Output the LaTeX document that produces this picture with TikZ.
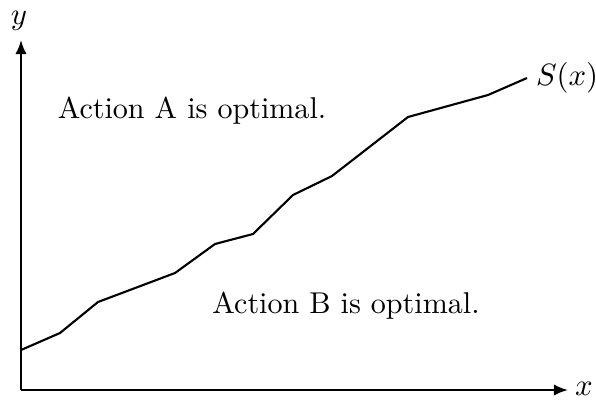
\documentclass[tikz,border=0pt]{standalone}
\usepackage{amsmath,amssymb}
\usepackage{tikz}
\usetikzlibrary{arrows.meta,positioning,calc}

\begin{document}
\begin{tikzpicture}[
  x=0.0125cm,y=-0.0125cm,
  axis/.style={-{Latex[length=5pt,width=4pt]},line width=0.75pt},
  curve/.style={line width=0.75pt,line join=round},
  region/.style={font=\fontsize{10.7}{13}\selectfont,anchor=base},
  lbl/.style={inner sep=1pt,font=\fontsize{11}{13}\selectfont},
]
\useasboundingbox (0,0) rectangle (596,399);

% axes
\coordinate (origin) at (21,390);
\coordinate (ytip) at (21,40);
\coordinate (xtip) at (568,390);
\draw[axis] (origin) -- (ytip);
\draw[axis] (origin) -- (xtip);
\node[lbl] (ylabel) at (19,21) {$y$};
\node[lbl] (xlabel) at (584,389) {$x$};

% the curve S(x)
\draw[curve] (21,350) -- (60,333) -- (98,302) -- (175,273) -- (215,244)
  -- (253,234) -- (293,195) -- (332,176) -- (408,117) -- (488,95)
  -- (527,78) coordinate (send);
\node[lbl,right=2pt of send] (slabel) {$S(x)$};

% regions
\node[region] (actA) at (192,118) {Action A is optimal.};
\node[region] (actB) at (346,313) {Action B is optimal.};
\end{tikzpicture}
\end{document}
